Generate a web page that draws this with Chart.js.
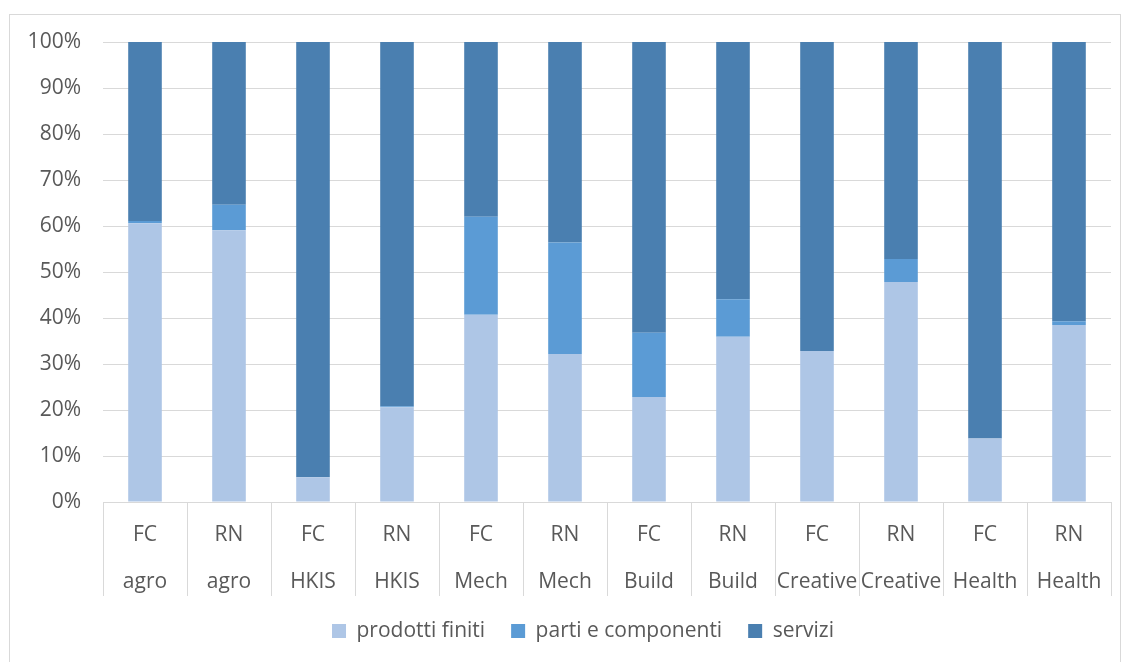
<!DOCTYPE html>
<html>
<head>
<meta charset="utf-8">
<script src="https://cdn.jsdelivr.net/npm/chart.js@4.4.1/dist/chart.umd.min.js"></script>
<style>
  html, body { margin: 0; padding: 0; background: #ffffff; }
  #wrap { position: relative; width: 1130px; height: 662px; }
</style>
</head>
<body>
<div id="wrap"><canvas id="c" width="1130" height="662"></canvas></div>
<script>
const groups = ['FC','RN','FC','RN','FC','RN','FC','RN','FC','RN','FC','RN'];
const sectors = ['agro','agro','HKIS','HKIS','Mech','Mech','Build','Build','Creative','Creative','Health','Health'];
const prodottiFiniti = [60.6, 59.1, 5.4, 20.6, 40.7, 32.2, 22.8, 35.9, 32.8, 47.8, 13.8, 38.5];
const partiComponenti = [0.5, 5.5, 0, 0.2, 21.3, 24.2, 14.0, 8.2, 0, 5.0, 0, 0.8];
const servizi = [38.9, 35.4, 94.6, 79.2, 38.0, 43.6, 63.2, 55.9, 67.2, 47.2, 86.2, 60.7];
const seriesNames = ['prodotti finiti', 'parti e componenti', 'servizi'];
const yTickValues = [0, 10, 20, 30, 40, 50, 60, 70, 80, 90, 100];

const labels = groups.map((g, i) => [g, sectors[i]]);
const FONT = "'Open Sans', sans-serif";
const TEXT = '#595959';
const GRID = '#d9d9d9';

const framePlugin = {
  id: 'frame',
  beforeDraw(chart) {
    const ctx = chart.ctx;
    ctx.save();
    ctx.fillStyle = '#ffffff';
    ctx.fillRect(0, 0, chart.width, chart.height);
    ctx.strokeStyle = GRID;
    ctx.lineWidth = 1;
    ctx.strokeRect(9.5, 14.5, 1111, 700);
    ctx.restore();
  }
};

const legendNudge = {
  id: 'legendNudge',
  afterLayout(chart) {
    const lg = chart.legend;
    if (!lg) return;
    lg.left += 14;
    lg.right += 14;
  }
};

const separatorPlugin = {
  id: 'separators',
  afterDraw(chart) {
    const xs = chart.scales.x;
    const n = labels.length;
    const ctx = chart.ctx;
    ctx.save();
    ctx.strokeStyle = GRID;
    ctx.lineWidth = 1;
    for (let i = 0; i <= n; i++) {
      let px;
      if (i === 0) px = xs.left;
      else if (i === n) px = xs.right;
      else px = (xs.getPixelForValue(i - 1) + xs.getPixelForValue(i)) / 2;
      px = Math.round(px) + 0.5;
      ctx.beginPath();
      ctx.moveTo(px, xs.top);
      ctx.lineTo(px, xs.top + 94);
      ctx.stroke();
    }
    ctx.restore();
  }
};

new Chart(document.getElementById('c'), {
  type: 'bar',
  data: {
    labels: labels,
    datasets: [
      { label: seriesNames[0], data: prodottiFiniti, backgroundColor: '#aec6e6' },
      { label: seriesNames[1], data: partiComponenti, backgroundColor: '#5b9bd5' },
      { label: seriesNames[2], data: servizi, backgroundColor: '#4a7fb0' }
    ]
  },
  options: {
    responsive: false,
    animation: false,
    devicePixelRatio: 1,
    layout: { padding: { left: 27, right: 19, top: 42, bottom: 10.5 } },
    datasets: { bar: { barPercentage: 0.4, categoryPercentage: 1.0 } },
    scales: {
      x: {
        stacked: true,
        grid: { display: false, drawTicks: false },
        border: { display: false },
        afterFit(scale) { scale.height = 92.5; },
        ticks: {
          autoSkip: false,
          maxRotation: 0,
          minRotation: 0,
          padding: 10,
          color: TEXT,
          font: { family: FONT, size: 21, lineHeight: 47 / 21 }
        }
      },
      y: {
        stacked: true,
        min: 0,
        max: 100,
        afterFit(scale) { scale.width = 76; },
        afterBuildTicks(scale) { scale.ticks = yTickValues.map(v => ({ value: v })); },
        grid: { color: GRID, lineWidth: 1, drawTicks: false },
        border: { display: false },
        ticks: {
          padding: 22,
          color: TEXT,
          font: { family: FONT, size: 21 },
          callback: v => v + '%'
        }
      }
    },
    plugins: {
      legend: {
        position: 'bottom',
        labels: {
          boxWidth: 14,
          boxHeight: 14,
          padding: 26,
          color: TEXT,
          font: { family: FONT, size: 21 }
        }
      },
      tooltip: { enabled: false }
    }
  },
  plugins: [framePlugin, legendNudge, separatorPlugin]
});
</script>
</body>
</html>
